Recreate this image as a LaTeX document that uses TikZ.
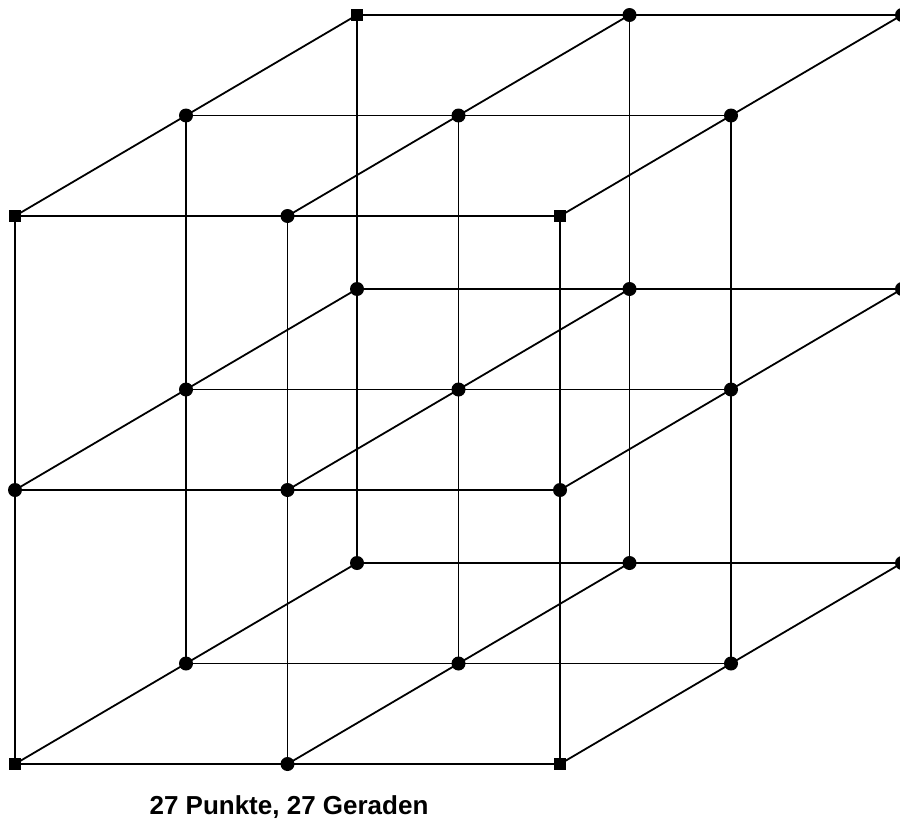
\documentclass[tikz,border=0pt]{standalone}
\usepackage{fontspec}
\setmainfont{Liberation Sans}
\usepackage{tikz}
\usetikzlibrary{calc}

\tikzset{
  dot/.style={circle, fill=black, inner sep=0pt, minimum size=14pt},
  corner/.style={rectangle, fill=black, inner sep=0pt, minimum size=11.5pt},
  gridline/.style={line width=1.8pt, color=black}
}

\begin{document}
\begin{tikzpicture}[x=1pt, y=-1pt]
  \useasboundingbox (0,0) rectangle (900,827);
  % The 27 points, layer k goes back into the picture
  \foreach \i in {0,1,2} {
    \foreach \j in {0,1,2} {
      \foreach \k in {0,1,2} {
        \coordinate (c-\i-\j-\k) at ({15+272.5*\i+171*\k},{216+274*\j-100.5*\k});
      }
    }
  }
  % Lines in the three directions
  \foreach \a in {0,1,2} {
    \foreach \b in {0,1,2} {
      \draw[gridline] (c-0-\a-\b) -- (c-2-\a-\b);
      \draw[gridline] (c-\a-0-\b) -- (c-\a-2-\b);
      \draw[gridline] (c-\a-\b-0) -- (c-\a-\b-2);
    }
  }
  % Markers: squares at the front corners and the back top left, dots elsewhere
  \foreach \i in {0,1,2} {
    \foreach \j in {0,1,2} {
      \foreach \k in {0,1,2} {
        \pgfmathtruncatemacro\sq{(\k==0 && \i!=1 && \j!=1) || (\i==0 && \j==0 && \k==2)}
        \ifnum\sq=1
          \node[corner] (p-\i-\j-\k) at (c-\i-\j-\k) {};
        \else
          \node[dot] (p-\i-\j-\k) at (c-\i-\j-\k) {};
        \fi
      }
    }
  }
  % Caption
  \node[font=\fontsize{26}{30}\selectfont\bfseries, anchor=base] (caption) at (289,814) {27 Punkte, 27 Geraden};
\end{tikzpicture}
\end{document}
